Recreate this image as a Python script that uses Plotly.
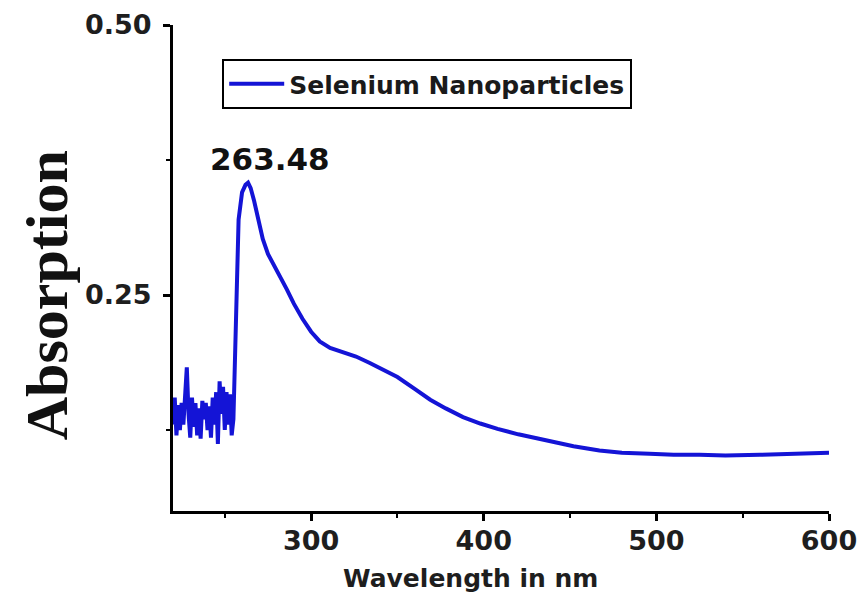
import plotly.graph_objects as go

# Wavelength (nm) and absorption
wavelength = [220, 221, 222, 223, 224, 225, 226, 227, 228, 229, 230, 231, 232, 233, 234,
              235, 236, 237, 238, 239, 240, 241, 242, 243, 244, 245, 246, 247, 248, 249,
              250, 251, 252, 253, 254, 255, 256, 257, 258, 260, 262, 263.48, 265, 267,
              270, 272, 275, 278, 282, 286, 290, 295, 300, 305, 311, 318, 326, 334, 340,
              350, 360, 369, 378, 388, 398, 408, 420, 437, 452, 467, 480, 496, 510, 525,
              540, 560, 580, 600]
absorption = [0.130, 0.155, 0.120, 0.148, 0.125, 0.150, 0.130, 0.160, 0.183, 0.140, 0.118,
              0.155, 0.128, 0.150, 0.120, 0.145, 0.117, 0.152, 0.135, 0.150, 0.125, 0.147,
              0.118, 0.155, 0.130, 0.160, 0.112, 0.170, 0.140, 0.165, 0.125, 0.160, 0.130,
              0.158, 0.120, 0.135, 0.200, 0.280, 0.320, 0.345, 0.352, 0.354, 0.349, 0.337,
              0.315, 0.302, 0.288, 0.279, 0.268, 0.255, 0.242, 0.228, 0.216, 0.207, 0.201,
              0.197, 0.193, 0.187, 0.182, 0.174, 0.163, 0.153, 0.145, 0.137, 0.131, 0.126,
              0.121, 0.115, 0.110, 0.106, 0.104, 0.103, 0.102, 0.102, 0.1015, 0.102, 0.103,
              0.104]

series_name = "Selenium Nanoparticles"
peak_label = "263.48"
x_tickvals = [300, 400, 500, 600]
y_tickvals = [0.25, 0.50]
y_ticktext = ["0.25", "0.50"]

fig = go.Figure()
fig.add_trace(go.Scatter(
    x=wavelength, y=absorption, mode="lines", name=series_name,
    line=dict(color="#1414d6", width=4),
))

tick_font = dict(family="DejaVu Sans", size=27, color="#1e1e1e", weight="bold")

fig.update_layout(
    width=862, height=599,
    margin=dict(l=173, r=33, t=25, b=88),
    paper_bgcolor="white", plot_bgcolor="white",
    showlegend=True,
    legend=dict(
        x=0.075, y=0.93, xanchor="left", yanchor="top",
        bgcolor="white", bordercolor="black", borderwidth=2,
        font=dict(family="DejaVu Sans", size=25, color="#1a1a1a", weight="bold"),
        itemwidth=55, tracegroupgap=0,
    ),
    xaxis=dict(
        range=[220, 600], tickmode="array", tickvals=x_tickvals, automargin=False,
        showline=True, linecolor="black", linewidth=3, mirror=False,
        ticks="outside", ticklen=7, tickwidth=2.5, tickcolor="black",
        minor=dict(tickvals=[250, 350, 450, 550], ticks="outside", ticklen=4,
                   tickwidth=2, tickcolor="black"),
        showgrid=False, zeroline=False, tickfont=tick_font, ticklabelstandoff=-3,
    ),
    yaxis=dict(
        range=[0.05, 0.50], tickmode="array", tickvals=y_tickvals, ticktext=y_ticktext,
        automargin=False,
        showline=True, linecolor="black", linewidth=3, mirror=False,
        ticks="outside", ticklen=7, tickwidth=2.5, tickcolor="black",
        minor=dict(tickvals=[0.125, 0.375], ticks="outside", ticklen=4,
                   tickwidth=2, tickcolor="black"),
        showgrid=False, zeroline=False, tickfont=tick_font, ticklabelstandoff=6,
    ),
    annotations=[
        dict(text="Absorption", textangle=-90, xref="paper", yref="paper",
             x=-0.192, y=0.444, xanchor="center", yanchor="middle", showarrow=False,
             font=dict(family="Liberation Serif", size=60, color="#111111", weight="bold")),
        dict(text="Wavelength in nm", xref="paper", yref="paper",
             x=0.453, y=-0.138, xanchor="center", yanchor="middle", showarrow=False,
             font=dict(family="DejaVu Sans", size=25, color="#1e1e1e", weight="bold")),
        dict(text=peak_label, xref="x", yref="y", x=276, y=0.376,
             xanchor="center", yanchor="middle", showarrow=False,
             font=dict(family="DejaVu Sans", size=31, color="#111111", weight="bold")),
    ],
)

fig.write_html("out.html")
